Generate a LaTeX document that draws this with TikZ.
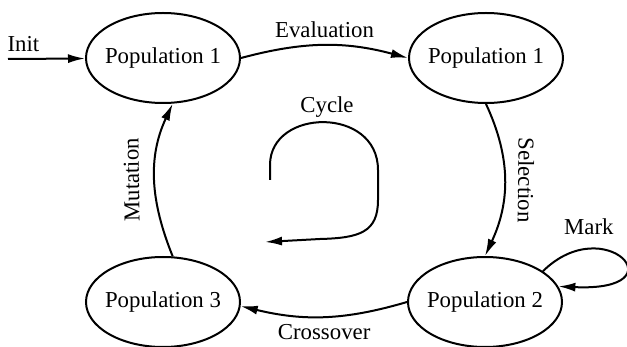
\documentclass[tikz,border=0pt]{standalone}
\usepackage{fontspec}
\setmainfont{Liberation Serif}
\usetikzlibrary{arrows.meta, shapes.geometric}

\begin{document}
\begin{tikzpicture}[
		x=0.5pt, y=-0.5pt, line width=1pt,
		font=\fontsize{11.4}{13.7}\selectfont,
		>={Latex[length=8.5pt,width=4.5pt]},
		popnode/.style={ellipse,draw,inner xsep=-2pt,inner ysep=0pt,minimum width=77pt,minimum height=45pt}
		]
		\useasboundingbox (0,0) rectangle (627,347);

		\node[popnode](P1) at (163,58){Population 1};
		\node[popnode, right of = P1, node distance = 161.5pt](P1e){Population 1};
		\node[popnode, below of = P1, node distance = 122pt](P3){Population 3};
		\node[popnode, right of = P3, node distance = 161pt](P2){Population 2};
		\coordinate (In) at (8,59);

		\draw[->] (In) -- (P1) node [pos=0.2, above]{Init};
		\draw[->] (P1.east) to[bend left=15] node [midway, above]{Evaluation} (P1e.west);
		\draw[->] (P1e.south) to[out=-65, in=65] node [midway, above=3pt, sloped,
		allow upside down]{Selection} (P2.north);
		\draw[->] (P2.28) .. controls (605,210) and (682,292) .. (P2.12)
		node [pos=0.25, above=3pt]{Mark};
		\draw[->] (P2.west) to[bend left=15] node [midway, below]{Crossover} (P3.-3);
		\draw[->] (P3.78) to[out=112, in=-115] node [midway, above=4pt, sloped,
		allow upside down]{Mutation} (P1.-78);

		% cycle sign in the middle
		\node (CycleLbl) at (327,107){Cycle};
		\coordinate (CycStart) at (270,180);
		\coordinate (CycEnd) at (265,242);
		\draw[->] (CycStart) -- (270,165) .. controls (270,108) and (378,106) .. (378,170)
		-- (378,200) .. controls (378,232) and (360,238) .. (320,239) -- (CycEnd);
	\end{tikzpicture}
\end{document}
